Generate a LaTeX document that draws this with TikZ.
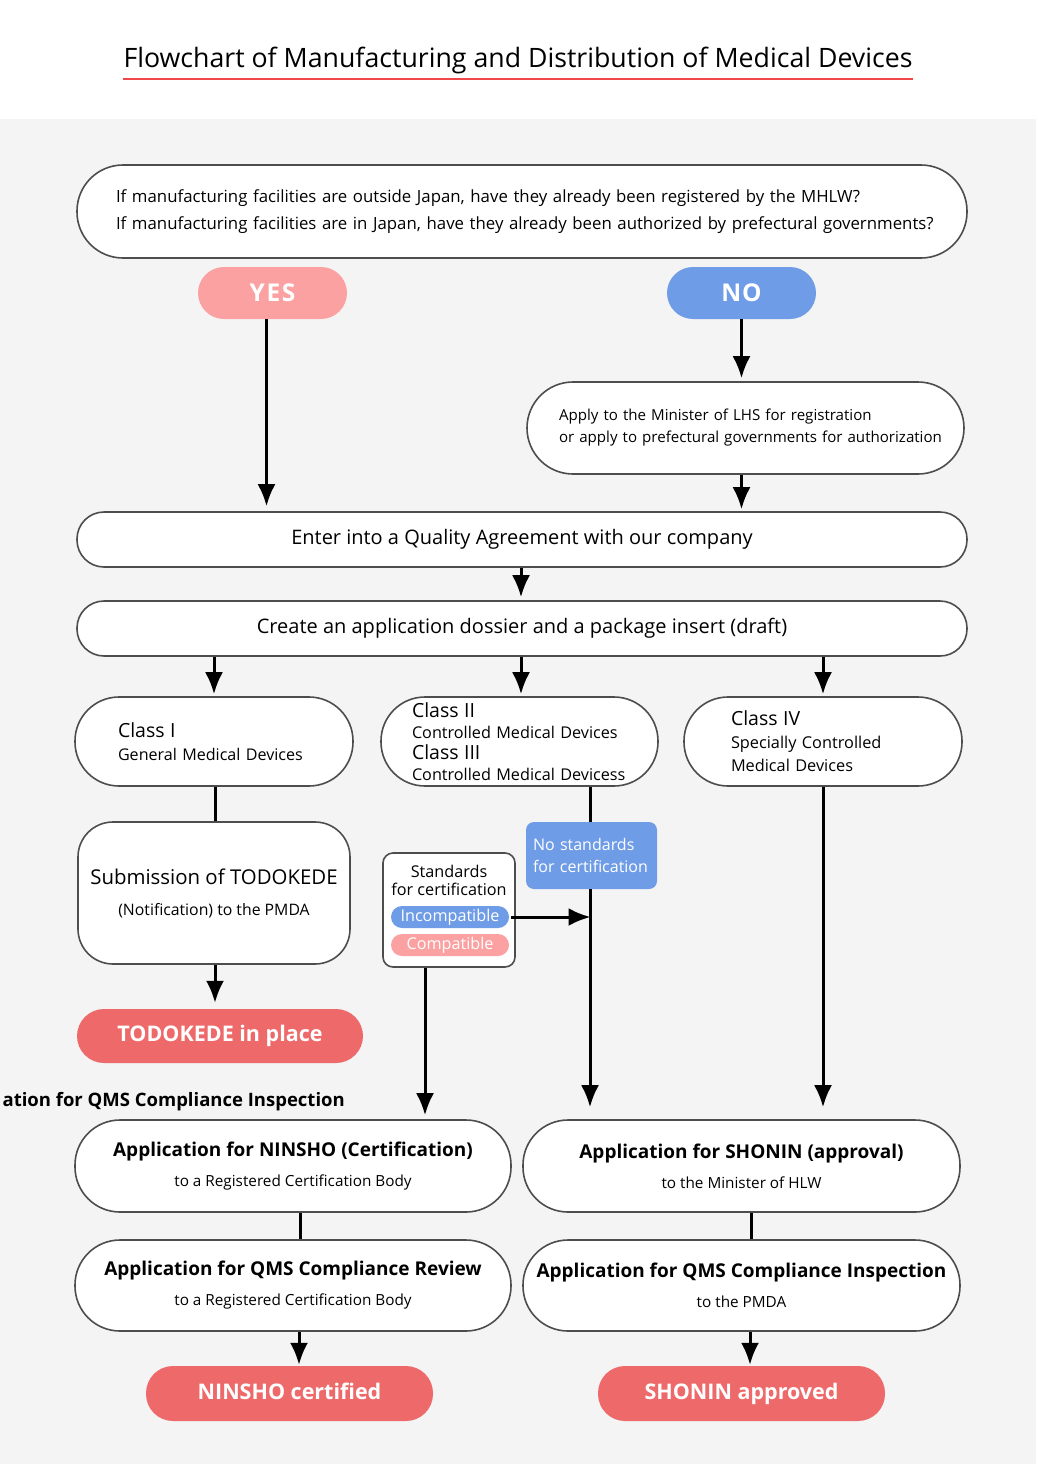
\documentclass[tikz,border=0pt]{standalone}
\usepackage{fontspec}
\setmainfont{Open Sans}
\usetikzlibrary{arrows.meta}

\definecolor{bggray}{HTML}{F4F4F4}
\definecolor{edgegray}{HTML}{4D4D4D}
\definecolor{yespink}{HTML}{FCA1A1}
\definecolor{noblue}{HTML}{6F9CE6}
\definecolor{endred}{HTML}{EE6A6A}
\definecolor{linered}{HTML}{F04848}

\tikzset{
  box/.style={draw=edgegray, line width=1.6pt, fill=white, rounded corners=#1, inner sep=0pt},
  box/.default=45pt,
  pill/.style={fill=#1, text=white, rounded corners=26pt, inner sep=0pt, text height=17pt, text depth=0pt,
               font=\bfseries\fontsize{24.5}{26}\selectfont},
  endpill/.style={fill=endred, text=white, rounded corners=27pt, inner sep=0pt, minimum width=287pt, minimum height=55pt,
                  text height=16pt, text depth=5pt, font=\bfseries\fontsize{21.5}{24}\selectfont},
  tag/.style={fill=#1, text=white, rounded corners=11pt, inner sep=0pt, minimum width=118pt, minimum height=22pt, font=\fontsize{16.2}{17}\selectfont},
  flow/.style={line width=3pt, -{Latex[length=22pt,width=18pt]}},
  link/.style={line width=3pt}
}

\begin{document}
\begin{tikzpicture}[x=1pt, y=-1pt]
\useasboundingbox (0,0) rectangle (1037,1464);
\fill[white] (0,0) rectangle (1037,1464);
\fill[bggray] (0,119) rectangle (1036,1464);

% title
\node[font=\fontsize{26.7}{30}\selectfont] (title) at (518,60) {Flowchart of Manufacturing and Distribution of Medical Devices};
\draw[linered, line width=2pt] (123,79) -- (913,79);

% question
\node[box=46pt, minimum width=890pt, minimum height=93pt, inner xsep=39pt, text width=812pt, align=left,
      font=\fontsize{16.8}{27}\selectfont] (question) at (522,211.5)
  {\mbox{If manufacturing facilities are outside Japan, have they already been registered by the MHLW?}\\
   \mbox{If manufacturing facilities are in Japan, have they already been authorized by prefectural governments?}};

\node[pill=yespink, minimum width=149pt, minimum height=52pt] (yes) at (272.5,293) {\addfontfeatures{LetterSpace=7}YES};
\node[pill=noblue, minimum width=149pt, minimum height=52pt] (no) at (741.5,293) {\addfontfeatures{LetterSpace=3}NO};

\node[box=46pt, minimum width=437pt, minimum height=92pt, inner xsep=32pt, text width=373pt, align=left,
      font=\fontsize{15.1}{22}\selectfont] (apply) at (745.5,428)
  {\mbox{Apply to the Minister of LHS for registration}\\
   \mbox{or apply to prefectural governments for authorization}};

\node[box=27pt, minimum width=890pt, minimum height=55pt, font=\fontsize{20}{22}\selectfont] (enter) at (522,539.5)
  {Enter into a Quality Agreement with our company};
\node[box=27pt, minimum width=890pt, minimum height=55pt, font=\fontsize{20}{22}\selectfont] (dossier) at (522,628.5)
  {Create an application dossier and a package insert (draft)};

% classes
\node[box=44pt, minimum width=278pt, minimum height=89pt, inner xsep=43pt, text width=192pt, align=left,
      font=\fontsize{16.1}{23}\selectfont] (classone) at (214,741.5)
  {{\fontsize{19.5}{23}\selectfont Class I}\\ General Medical Devices};
\node[box=44pt, minimum width=277pt, minimum height=89pt, inner xsep=31pt, text width=215pt, align=left,
      font=\fontsize{16.2}{21}\selectfont] (classtwo) at (519.5,741.5)
  {{\fontsize{19.5}{21}\selectfont Class II}\\ \mbox{Controlled Medical Devices}\\
   {\fontsize{19.5}{21}\selectfont Class III}\\ \mbox{Controlled Medical Devicess}};
\node[box=44pt, minimum width=278pt, minimum height=89pt, inner xsep=47pt, text width=184pt, align=left,
      font=\fontsize{16.3}{23}\selectfont] (classfour) at (823,741.5)
  {{\fontsize{19.5}{23}\selectfont Class IV}\\ Specially Controlled\\ Medical Devices};

% class I branch
\node[box=35pt, minimum width=272pt, minimum height=142pt, align=center, font=\fontsize{20.4}{31}\selectfont] (todokede) at (214,893)
  {Submission of TODOKEDE\\ {\fontsize{15.8}{31}\selectfont (Notification) to the PMDA}};
\node[endpill, minimum width=286pt, minimum height=54pt] (todoplace) at (220,1036) {TODOKEDE in place};
\node[anchor=base east, inner sep=0pt, font=\bfseries\fontsize{18.5}{22}\selectfont] (cutlabel) at (345,1106) {ation for QMS Compliance Inspection};

% class II/III branch
\node[fill=noblue, text=white, rounded corners=8pt, minimum width=131pt, minimum height=67pt, inner xsep=7pt,
      text width=117pt, align=left, font=\fontsize{16}{22}\selectfont] (nostd) at (591.5,855.5)
  {No standards\\ \mbox{for certification}};
\node[box=10pt, minimum width=132pt, minimum height=114pt] (std) at (449,910) {};
\node[align=center, inner sep=0pt, font=\fontsize{16.2}{18}\selectfont] (stdtext) at (449,880) {Standards\\ for certification};
\node[tag=noblue] (incomp) at (450,917) {Incompatible};
\node[tag=yespink] (comp) at (450,945) {Compatible};

% applications
\node[box=45pt, minimum width=436pt, minimum height=92pt, align=center, font=\bfseries\fontsize{19}{30}\selectfont] (ninsho) at (293,1166)
  {Application for NINSHO (Certification)\\ {\mdseries\fontsize{15.3}{30}\selectfont to a Registered Certification Body}};
\node[box=45pt, minimum width=437pt, minimum height=92pt, align=center, font=\bfseries\fontsize{19}{30}\selectfont] (shonin) at (741.5,1166)
  {Application for SHONIN (approval)\\ {\mdseries\fontsize{15.3}{30}\selectfont to the Minister of HLW}};
\node[box=45pt, minimum width=436pt, minimum height=91pt, align=center, font=\bfseries\fontsize{19}{30}\selectfont] (review) at (293,1285.5)
  {Application for QMS Compliance Review\\ {\mdseries\fontsize{15.3}{30}\selectfont to a Registered Certification Body}};
\node[box=45pt, minimum width=437pt, minimum height=91pt, align=center, font=\bfseries\fontsize{19}{30}\selectfont] (inspect) at (741.5,1285.5)
  {Application for QMS Compliance Inspection\\ {\mdseries\fontsize{15.3}{30}\selectfont to the PMDA}};

\node[endpill] (ninshodone) at (289.5,1393.5) {NINSHO certified};
\node[endpill] (shonindone) at (741.5,1393.5) {SHONIN approved};

% connectors
\draw[flow, shorten >=5pt] ([xshift=-6pt]yes.south) -- ([xshift=-6pt]yes.south |- enter.north);
\draw[flow, shorten >=3pt] (no.south) -- (no.south |- apply.north);
\draw[flow, shorten >=2pt] (no.south |- apply.south) -- (no.south |- enter.north);
\draw[flow, shorten >=3pt] ([xshift=-1pt]enter.south) -- ([xshift=-1pt]dossier.north);
\draw[flow, shorten >=2pt] (classone.north |- dossier.south) -- (classone.north);
\draw[flow, shorten >=2pt] ([xshift=-1pt]dossier.south) -- ([xshift=-1pt]dossier.south |- classtwo.north);
\draw[flow, shorten >=2pt] (classfour.north |- dossier.south) -- (classfour.north);

\draw[link] ([xshift=1pt]classone.south) -- ([xshift=1pt]todokede.north);
\draw[flow, shorten >=6pt] ([xshift=1pt]todokede.south) -- ([xshift=1pt]todokede.south |- todoplace.north);

\draw[link] ([xshift=-1.5pt]nostd.north |- classtwo.south) -- ([xshift=-1.5pt]nostd.north);
\draw[flow, shorten >=12pt] ([xshift=-1.5pt]nostd.south) -- ([xshift=-1.5pt]nostd.south |- shonin.north);
\draw[flow] ([xshift=2pt]incomp.east) -- ([xshift=-1pt]incomp.east -| nostd.south);
\draw[flow, shorten >=4pt] ([xshift=-24pt]std.south) -- ([xshift=-24pt]std.south |- ninsho.north);
\draw[flow, shorten >=12pt] (classfour.south) -- (classfour.south |- shonin.north);

\draw[link] ([xshift=7pt]ninsho.south) -- ([xshift=7pt]review.north);
\draw[link] ([xshift=9.5pt]shonin.south) -- ([xshift=9.5pt]inspect.north);
\draw[flow, shorten >=1pt] ([xshift=6pt]review.south) -- ([xshift=6pt]review.south |- ninshodone.north);
\draw[flow, shorten >=1pt] ([xshift=8.5pt]inspect.south) -- ([xshift=8.5pt]inspect.south |- shonindone.north);
\end{tikzpicture}
\end{document}
